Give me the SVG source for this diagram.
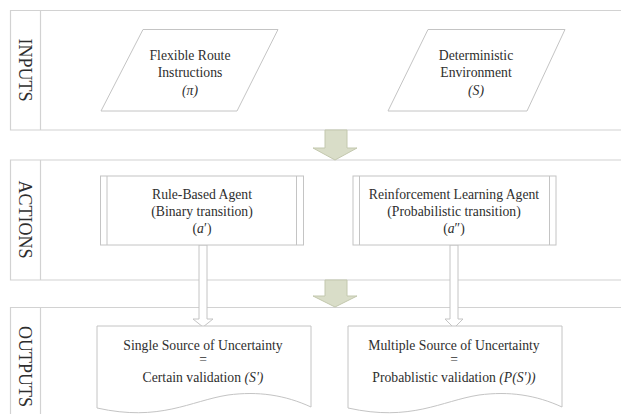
<svg xmlns="http://www.w3.org/2000/svg" width="621" height="414" viewBox="0 0 621 414">
  <style>
    .band { fill: none; stroke: #d2d2d2; stroke-width: 1.2; }
    .shape { fill: #ffffff; stroke: #c4c4c4; stroke-width: 1; }
    .flow { fill: #d9ddc8; stroke: #c3c8ae; stroke-width: 1; }
    .hollow { fill: #ffffff; stroke: #c4c4c4; stroke-width: 1; }
    text { font-family: "Liberation Serif", "Times New Roman", serif; fill: #2e2e2e; text-anchor: middle; }
    .lane { font-size: 18px; }
    .lbl { font-size: 13.7px; }
    .it { font-style: italic; }
  </style>
  <rect x="0" y="0" width="621" height="414" fill="#ffffff"/>

  <!-- swimlanes -->
  <g id="lane-inputs">
    <path class="band" d="M622,10.5 H10.5 V130 H622 M40.5,10.5 V130"/>
    <text class="lane" transform="translate(19,70) rotate(90)">INPUTS</text>
  </g>
  <g id="lane-actions">
    <path class="band" d="M622,160 H10.5 V280 H622 M40.5,160 V280"/>
    <text class="lane" transform="translate(19,219.5) rotate(90)">ACTIONS</text>
  </g>
  <g id="lane-outputs">
    <path class="band" d="M622,307.5 H10.5 V415 M40.5,307.5 V415"/>
    <text class="lane" transform="translate(19,366.5) rotate(90)">OUTPUTS</text>
  </g>

  <!-- connectors -->
  <g id="connectors">
    <path class="flow" d="M325,130 H347 V148 H357 L335,160 L313,148 H325 Z"/>
    <path class="flow" d="M325,280 H347 V296 H357 L335,307 L313,296 H325 Z"/>
    <path class="hollow" d="M199,245 H207 V319 H213 L203,327 L193,319 H199 Z"/>
    <path class="hollow" d="M450,245 H458 V319 H463 L454,328 L445,319 H450 Z"/>
  </g>

  <!-- inputs -->
  <g id="node-route">
    <polygon class="shape" points="143,29.5 278,29.5 237,111 101,111"/>
    <text class="lbl" x="190" y="60">Flexible Route</text>
    <text class="lbl" x="190" y="77">Instructions</text>
    <text class="lbl it" x="190" y="95">(π)</text>
  </g>
  <g id="node-environment">
    <polygon class="shape" points="428,29.5 565,29.5 527,111 388,111"/>
    <text class="lbl" x="476" y="60">Deterministic</text>
    <text class="lbl" x="476" y="77">Environment</text>
    <text class="lbl it" x="476" y="95">(S)</text>
  </g>

  <!-- actions -->
  <g id="node-rule-agent">
    <rect class="shape" x="100.5" y="176" width="203" height="69"/>
    <path class="shape" d="M107,176 V245 M296.5,176 V245"/>
    <text class="lbl" x="202" y="199">Rule-Based Agent</text>
    <text class="lbl" x="202" y="216">(Binary transition)</text>
    <text class="lbl" x="202" y="233">(<tspan class="it">a</tspan>′)</text>
  </g>
  <g id="node-rl-agent">
    <rect class="shape" x="353" y="176" width="203" height="69"/>
    <path class="shape" d="M359.5,176 V245 M549.5,176 V245"/>
    <text class="lbl" x="454" y="199">Reinforcement Learning Agent</text>
    <text class="lbl" x="454" y="216">(Probabilistic transition)</text>
    <text class="lbl" x="454" y="233">(<tspan class="it">a</tspan>″)</text>
  </g>

  <!-- outputs -->
  <g id="node-single">
    <path class="shape" d="M97,326 H311 V407 C285,395 258,391 228,395 C190,401 160,422 97,408 Z"/>
    <text class="lbl" x="203" y="350">Single Source of Uncertainty</text>
    <text class="lbl" x="203" y="364">=</text>
    <text class="lbl" x="203" y="382">Certain validation <tspan class="it">(S')</tspan></text>
  </g>
  <g id="node-multiple">
    <path class="shape" d="M348,326 H562 V407 C536,395 509,391 479,395 C441,401 411,422 348,408 Z"/>
    <text class="lbl" x="454" y="350">Multiple Source of Uncertainty</text>
    <text class="lbl" x="454" y="364">=</text>
    <text class="lbl" x="454" y="382">Probablistic validation <tspan class="it">(P(S'))</tspan></text>
  </g>
</svg>
